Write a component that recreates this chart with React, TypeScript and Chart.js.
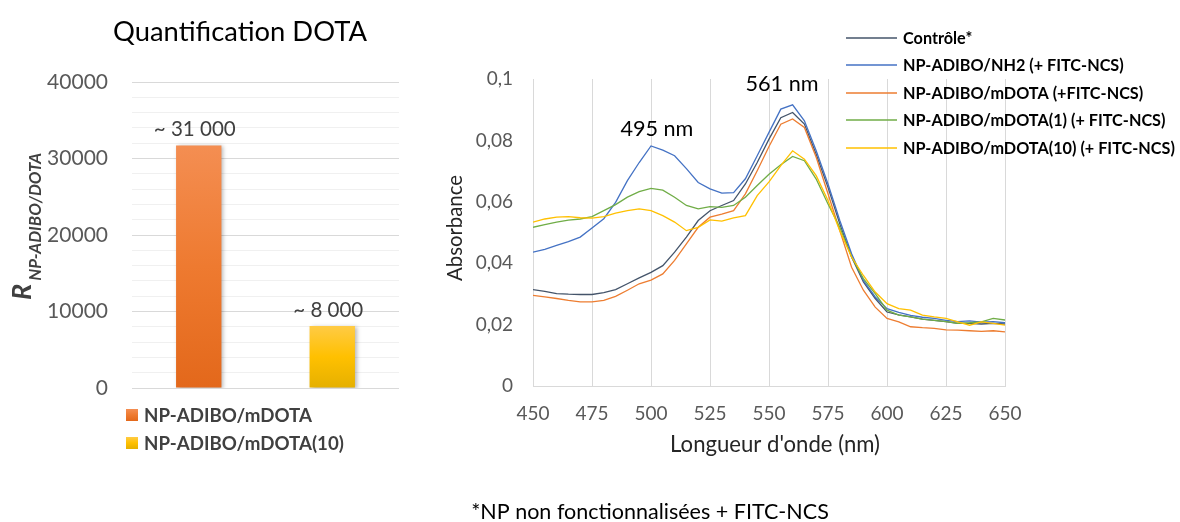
import React, { useEffect, useRef } from "react";
import { Chart, registerables } from "chart.js";

Chart.register(...registerables);

// ---------- Bar chart data ----------
const barCategories = ["NP-ADIBO/mDOTA", "NP-ADIBO/mDOTA(10)"];
const barValues = [31700, 8100];
const barLabels = ["~ 31 000", "~ 8 000"];
const barTicks = [0, 10000, 20000, 30000, 40000];
const barTitle = "Quantification DOTA";

// ---------- Spectra data ----------
const wavelengths = [
  450, 455, 460, 465, 470, 475, 480, 485, 490, 495, 500, 505, 510, 515, 520, 525, 530, 535, 540, 545,
  550, 555, 560, 565, 570, 575, 580, 585, 590, 595, 600, 605, 610, 615, 620, 625, 630, 635, 640, 645, 650,
];
const wlTicks = [450, 475, 500, 525, 550, 575, 600, 625, 650];
const absTickLabels = ["0", "0,02", "0,04", "0,06", "0,08", "0,1"];

const controle = [
  0.0314, 0.0308, 0.0301, 0.0299, 0.0298, 0.0298, 0.0304, 0.0314, 0.0333, 0.0352, 0.037, 0.0392, 0.0436,
  0.0485, 0.0539, 0.0571, 0.0588, 0.0604, 0.0658, 0.0728, 0.0804, 0.0874, 0.0891, 0.0853, 0.0755, 0.0647,
  0.0528, 0.042, 0.0339, 0.0285, 0.0241, 0.0232, 0.0225, 0.0218, 0.0214, 0.021, 0.0204, 0.0204, 0.0202,
  0.0204, 0.0202,
];
const nh2 = [
  0.0436, 0.0445, 0.0458, 0.047, 0.0485, 0.0515, 0.0545, 0.0598, 0.0669, 0.0728, 0.0782, 0.0768, 0.075,
  0.0708, 0.0663, 0.0642, 0.0628, 0.063, 0.0675, 0.075, 0.0826, 0.0902, 0.0916, 0.0864, 0.0766, 0.0658,
  0.0539, 0.0431, 0.0344, 0.029, 0.0252, 0.024, 0.023, 0.0224, 0.022, 0.0214, 0.021, 0.0212, 0.0208,
  0.021, 0.0206,
];
const mdota = [
  0.0295, 0.029, 0.0285, 0.0279, 0.0274, 0.0274, 0.0279, 0.0292, 0.0312, 0.0333, 0.0345, 0.0365, 0.0409,
  0.0463, 0.0517, 0.055, 0.056, 0.0571, 0.0626, 0.0701, 0.078, 0.0853, 0.087, 0.0842, 0.0745, 0.0626,
  0.0506, 0.0387, 0.0312, 0.0257, 0.022, 0.0209, 0.0193, 0.019, 0.0188, 0.0183, 0.0182, 0.018, 0.0178,
  0.018, 0.0176,
];
const mdota1 = [
  0.0517, 0.0526, 0.0534, 0.054, 0.0544, 0.0552, 0.0571, 0.0591, 0.0615, 0.0633, 0.0644, 0.0638, 0.0615,
  0.0588, 0.0577, 0.0584, 0.0582, 0.0588, 0.0615, 0.0653, 0.069, 0.0721, 0.0748, 0.0734, 0.0674, 0.0593,
  0.0517, 0.042, 0.035, 0.0301, 0.0247, 0.0231, 0.0225, 0.0218, 0.0214, 0.021, 0.0204, 0.0206, 0.0209,
  0.022, 0.0215,
];
const mdota10 = [
  0.0534, 0.0544, 0.055, 0.0552, 0.0548, 0.0547, 0.0552, 0.0563, 0.0571, 0.0577, 0.0571, 0.0555, 0.0534,
  0.0506, 0.0517, 0.0541, 0.0537, 0.0548, 0.0555, 0.062, 0.0665, 0.0718, 0.0766, 0.0739, 0.0685, 0.0604,
  0.0506, 0.042, 0.036, 0.0306, 0.0268, 0.0252, 0.0247, 0.0231, 0.0225, 0.022, 0.0209, 0.0198, 0.0209,
  0.0204, 0.0198,
];
const seriesLabels = [
  "Contrôle*",
  "NP-ADIBO/NH2 (+ FITC-NCS)",
  "NP-ADIBO/mDOTA (+FITC-NCS)",
  "NP-ADIBO/mDOTA(1) (+ FITC-NCS)",
  "NP-ADIBO/mDOTA(10) (+ FITC-NCS)",
];
const seriesValues = [controle, nh2, mdota, mdota1, mdota10];
const seriesColors = ["#44546A", "#4472C4", "#ED7D31", "#70AD47", "#FFC000"];
const peakLabels = ["495 nm", "561 nm"];
const footnote = "*NP non fonctionnalisées + FITC-NCS";

const FAMILY = "Lato, 'Open Sans', sans-serif";

function fitFont(ctx: CanvasRenderingContext2D, text: string, target: number, weight = "normal", style = "normal") {
  ctx.font = `${style} ${weight} 100px ${FAMILY}`;
  const w = ctx.measureText(text).width || 1;
  const size = (100 * target) / w;
  ctx.font = `${style} ${weight} ${size}px ${FAMILY}`;
  return size;
}

const barGradients = [
  ["#F48E52", "#EE7A30", "#E3681B"],
  ["#FFCB45", "#FFC000", "#E5B000"],
];

function makeGrad(ctx: CanvasRenderingContext2D, top: number, bottom: number, stops: string[]) {
  const g = ctx.createLinearGradient(0, top, 0, bottom);
  g.addColorStop(0, stops[0]);
  g.addColorStop(0.5, stops[1]);
  g.addColorStop(1, stops[2]);
  return g;
}

const barDecor = {
  id: "barDecor",
  beforeDatasetsDraw(chart: any) {
    const c = chart.ctx;
    c.save();
    c.shadowColor = "rgba(0,0,0,0.28)";
    c.shadowBlur = 4;
    c.shadowOffsetX = 2;
    c.shadowOffsetY = 1;
  },
  afterDatasetsDraw(chart: any) {
    chart.ctx.restore();
  },
  afterDraw(chart: any) {
    const c: CanvasRenderingContext2D = chart.ctx;
    c.save();
    // title
    c.fillStyle = "#000000";
    c.textAlign = "center";
    c.textBaseline = "alphabetic";
    fitFont(c, barTitle, 254);
    c.fillText(barTitle, 240, 41);

    // data labels
    const lblSize = fitFont(c, barLabels[0], 82);
    c.font = `normal normal ${lblSize}px ${FAMILY}`;
    c.fillStyle = "#404040";
    chart.data.datasets.forEach((_ds: any, i: number) => {
      const el = chart.getDatasetMeta(i).data[i];
      if (!el) return;
      c.fillText(barLabels[i], el.x - 4, el.y - 9);
    });

    // y axis title R_{NP-ADIBO/DOTA}
    c.save();
    c.rotate(-Math.PI / 2);
    c.textAlign = "left";
    c.fillStyle = "#404040";
    c.font = `italic bold 27px ${FAMILY}`;
    c.fillText("R", -300, 31);
    const rW = c.measureText("R").width;
    fitFont(c, "NP-ADIBO/DOTA", 128, "bold", "italic");
    c.fillText("NP-ADIBO/DOTA", -300 + rW + 3, 41);
    c.restore();

    // legend
    const legSize = fitFont(c, barCategories[0], 168, "bold");
    const rows = [415, 443];
    barCategories.forEach((name, i) => {
      const y = rows[i];
      c.fillStyle = makeGrad(c, y - 6, y + 6, barGradients[i]);
      c.fillRect(126, y - 6, 12, 12);
      c.fillStyle = "#404040";
      c.font = `normal bold ${legSize}px ${FAMILY}`;
      c.textAlign = "left";
      c.textBaseline = "middle";
      c.fillText(name, 144, y + 1);
    });
    c.restore();
  },
};

const specDecor = {
  id: "specDecor",
  afterDraw(chart: any) {
    const c: CanvasRenderingContext2D = chart.ctx;
    const xs = chart.scales.x;
    const ys = chart.scales.y;
    c.save();
    // legend
    const legSize = fitFont(c, seriesLabels[4], 272, "bold");
    const rows = [38, 65, 93, 120, 148];
    chart.data.datasets.forEach((ds: any, i: number) => {
      const y = rows[i];
      c.strokeStyle = ds.borderColor;
      c.lineWidth = 1.3;
      c.beginPath();
      c.moveTo(406, y);
      c.lineTo(457, y);
      c.stroke();
      c.fillStyle = "#000000";
      c.font = `normal bold ${legSize}px ${FAMILY}`;
      c.textAlign = "left";
      c.textBaseline = "middle";
      c.fillText(ds.label, 463, y + 1);
    });

    // peak annotations
    c.fillStyle = "#000000";
    c.textAlign = "center";
    c.textBaseline = "alphabetic";
    const pkSize = fitFont(c, peakLabels[0], 73);
    c.font = `normal normal ${pkSize}px ${FAMILY}`;
    c.fillText(peakLabels[0], xs.getPixelForValue(502.5), ys.getPixelForValue(0.0815));
    c.fillText(peakLabels[1], xs.getPixelForValue(555.5), ys.getPixelForValue(0.0961));

    // axis titles
    c.fillStyle = "#262626";
    c.textBaseline = "middle";
    fitFont(c, "Longueur d'onde (nm)", 210);
    c.fillText("Longueur d'onde (nm)", 335, 445);
    c.save();
    c.translate(15, 228);
    c.rotate(-Math.PI / 2);
    fitFont(c, "Absorbance", 106);
    c.fillText("Absorbance", 0, 0);
    c.restore();

    // footnote
    c.fillStyle = "#000000";
    fitFont(c, footnote, 358);
    c.fillText(footnote, 210, 512);
    c.restore();
  },
};

export default function App() {
  const barRef = useRef<HTMLCanvasElement>(null);
  const specRef = useRef<HTMLCanvasElement>(null);

  useEffect(() => {
    const barChart = new Chart(barRef.current as HTMLCanvasElement, {
      type: "bar",
      data: {
        labels: barCategories.map(() => ""),
        datasets: barCategories.map((name, i) => ({
          label: name,
          data: barCategories.map((_n, j) => (j === i ? barValues[i] : null)),
          grouped: false,
          barPercentage: 0.34,
          categoryPercentage: 1,
          borderWidth: 0,
          backgroundColor: (ctx: any) => {
            const chart = ctx.chart;
            if (!chart.chartArea || ctx.raw == null) return barGradients[i][1];
            const top = chart.scales.y.getPixelForValue(ctx.raw);
            const bottom = chart.scales.y.getPixelForValue(0);
            return makeGrad(chart.ctx, top, bottom, barGradients[i]);
          },
        })) as any,
      },
      options: {
        animation: false,
        responsive: false,
        devicePixelRatio: 1,
        layout: { padding: { top: 82, right: 21, bottom: 82, left: 0 } },
        plugins: { legend: { display: false }, title: { display: false }, tooltip: { enabled: false } },
        scales: {
          x: { display: false },
          y: {
            min: 0,
            max: 40000,
            afterFit: (s: any) => {
              s.width = 132;
            },
            ticks: {
              stepSize: 2000,
              autoSkip: false,
              padding: 24,
              color: "#595959",
              font: { family: FAMILY, size: 21 },
              callback: (v: any) => (barTicks.includes(Number(v)) ? String(v) : ""),
            },
            grid: {
              drawTicks: false,
              color: (c: any) => (barTicks.includes(c.tick?.value) ? "#D9D9D9" : "#F0F0F0"),
              lineWidth: 1,
            },
            border: { display: false },
          },
        },
      },
      plugins: [barDecor],
    } as any);

    const specChart = new Chart(specRef.current as HTMLCanvasElement, {
      type: "line",
      data: {
        datasets: seriesLabels.map((name, i) => ({
          label: name,
          data: wavelengths.map((w, k) => ({ x: w, y: seriesValues[i][k] })),
          borderColor: seriesColors[i],
          backgroundColor: seriesColors[i],
          borderWidth: 1.3,
          pointRadius: 0,
          tension: 0,
          fill: false,
          order: seriesLabels.length - i,
        })),
      },
      options: {
        animation: false,
        responsive: false,
        devicePixelRatio: 1,
        layout: { padding: { top: 79, right: 175, bottom: 0, left: 0 } },
        plugins: { legend: { display: false }, title: { display: false }, tooltip: { enabled: false } },
        scales: {
          x: {
            type: "linear",
            min: 450,
            max: 650,
            afterFit: (s: any) => {
              s.height = 136;
            },
            afterBuildTicks: (s: any) => {
              s.ticks = wlTicks.map((v) => ({ value: v }));
            },
            ticks: {
              autoSkip: false,
              maxRotation: 0,
              padding: 16,
              color: "#595959",
              font: { family: FAMILY, size: 19 },
              callback: (v: any) => String(v),
            },
            grid: { drawTicks: false, color: "#D9D9D9", lineWidth: 1 },
            border: { display: true, color: "#D9D9D9" },
          },
          y: {
            min: 0,
            max: 0.1,
            afterFit: (s: any) => {
              s.width = 93;
            },
            ticks: {
              stepSize: 0.02,
              autoSkip: false,
              padding: 20,
              color: "#595959",
              font: { family: FAMILY, size: 19 },
              callback: (_v: any, i: number) => absTickLabels[i],
            },
            grid: { display: false, drawTicks: false },
            border: { display: false },
          },
        },
      },
      plugins: [specDecor],
    } as any);

    return () => {
      barChart.destroy();
      specChart.destroy();
    };
  }, []);

  return (
    <div style={{ position: "absolute", left: 0, top: 0, width: 1180, height: 522, background: "#ffffff" }}>
      <canvas ref={barRef} width={420} height={470} style={{ position: "absolute", left: 0, top: 0 }} />
      <canvas ref={specRef} width={740} height={522} style={{ position: "absolute", left: 440, top: 0 }} />
    </div>
  );
}
